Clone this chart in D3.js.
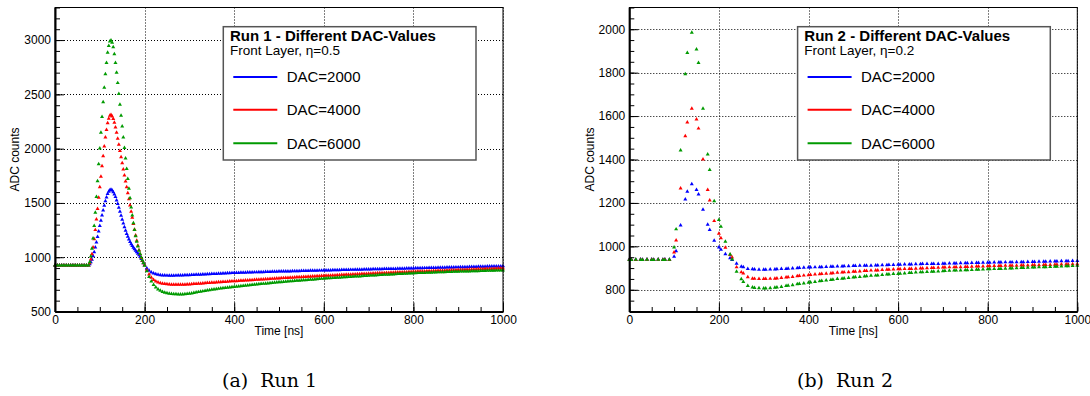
<!DOCTYPE html>
<html>
<head>
<meta charset="utf-8">
<script src="https://cdn.jsdelivr.net/npm/d3@7"></script>
<style>
  body { margin: 0; background: #fff; }
  svg text { font-family: "Liberation Sans", Arial, sans-serif; }
  svg text.caption { font-family: "DejaVu Serif", serif; }
</style>
</head>
<body>
<svg id="chart" width="1090" height="396"></svg>
<script>
// ---- data ----
const dacLabels = ['DAC=2000', 'DAC=4000', 'DAC=6000'];
const timeTicks = [0, 200, 400, 600, 800, 1000];
const run1YTicks = [500, 1000, 1500, 2000, 2500, 3000];
const run2YTicks = [800, 1000, 1200, 1400, 1600, 1800, 2000];

// run 1: dense sampling (ns)
const run1Time = [
  0, 5, 10, 15, 20, 25, 30, 35, 40, 45, 50, 55, 60, 65, 70,
  75, 77.5, 80, 82.5, 85, 87.5, 90, 92.5, 95, 97.5, 100, 102.5, 105, 107.5, 110, 112.5, 115, 117.5, 120, 122.5,
  125, 127.5, 130, 132.5, 135, 137.5, 140, 142.5, 145, 147.5, 150, 152.5, 155, 157.5, 160, 162.5, 165, 167.5, 170, 172.5,
  175, 177.5, 180, 182.5, 185, 187.5, 190, 192.5, 195, 197.5, 200,
  205, 210, 215, 220, 225, 230, 235, 240, 245, 250, 255, 260, 265, 270, 275, 280, 285, 290, 295, 300,
  305, 310, 315, 320, 325, 330, 335, 340, 345, 350, 355, 360, 365, 370, 375, 380, 385, 390, 395, 400,
  405, 410, 415, 420, 425, 430, 435, 440, 445, 450, 455, 460, 465, 470, 475, 480, 485, 490, 495, 500,
  505, 510, 515, 520, 525, 530, 535, 540, 545, 550, 555, 560, 565, 570, 575, 580, 585, 590, 595, 600,
  605, 610, 615, 620, 625, 630, 635, 640, 645, 650, 655, 660, 665, 670, 675, 680, 685, 690, 695, 700,
  705, 710, 715, 720, 725, 730, 735, 740, 745, 750, 755, 760, 765, 770, 775, 780, 785, 790, 795, 800,
  805, 810, 815, 820, 825, 830, 835, 840, 845, 850, 855, 860, 865, 870, 875, 880, 885, 890, 895, 900,
  905, 910, 915, 920, 925, 930, 935, 940, 945, 950, 955, 960, 965, 970, 975, 980, 985, 990, 995, 1000
];
const run1Dac2000 = [
  926, 926, 926, 926, 926, 926, 926, 926, 926, 926, 926, 926, 926, 926, 926,
  926, 936, 954, 978, 1010, 1048, 1090, 1138, 1187, 1239, 1288, 1337, 1385, 1431, 1476, 1518, 1552, 1584, 1605, 1619,
  1622, 1615, 1600, 1580, 1555, 1525, 1492, 1457, 1420, 1383, 1347, 1312, 1278, 1246, 1216, 1189, 1164, 1142, 1122, 1104,
  1088, 1074, 1061, 1048, 1034, 1019, 1003, 985, 966, 947, 928,
  898, 876, 861, 851, 844, 839, 836, 834, 833, 832, 831, 831, 831, 832, 833, 833, 834, 835, 835, 836,
  837, 838, 839, 840, 841, 842, 843, 844, 845, 846, 847, 848, 849, 850, 851, 852, 853, 854, 855, 856,
  857, 857, 858, 859, 859, 860, 861, 861, 862, 862, 863, 864, 864, 865, 866, 866, 867, 868, 868, 869,
  869, 870, 870, 871, 871, 872, 872, 873, 873, 874, 874, 875, 875, 876, 876, 877, 877, 878, 878, 879,
  879, 880, 880, 881, 881, 882, 882, 883, 883, 884, 884, 885, 885, 886, 886, 887, 887, 888, 888, 889,
  889, 890, 890, 891, 891, 891, 892, 892, 893, 893, 894, 894, 895, 895, 896, 896, 897, 897, 898, 898,
  899, 899, 900, 900, 901, 901, 902, 902, 903, 903, 904, 904, 905, 905, 906, 906, 907, 907, 908, 908,
  909, 909, 910, 910, 911, 911, 912, 912, 913, 913, 914, 914, 915, 915, 916, 916, 916, 917, 917, 918
];
const run1Dac4000 = [
  925, 925, 925, 925, 925, 925, 925, 925, 925, 925, 925, 925, 925, 925, 925,
  925, 946, 980, 1029, 1091, 1168, 1251, 1348, 1445, 1549, 1646, 1743, 1840, 1931, 2021, 2104, 2173, 2236, 2277, 2305,
  2312, 2298, 2275, 2240, 2197, 2148, 2093, 2037, 1980, 1923, 1866, 1810, 1755, 1700, 1645, 1590, 1535, 1478, 1421, 1364,
  1308, 1254, 1202, 1153, 1107, 1065, 1028, 995, 968, 946, 928,
  882, 842, 812, 792, 778, 768, 762, 757, 754, 752, 750, 749, 748, 748, 748, 748, 748, 749, 750, 751,
  752, 754, 755, 757, 758, 760, 761, 763, 764, 766, 767, 768, 770, 771, 773, 774, 776, 777, 779, 780,
  781, 783, 784, 785, 787, 788, 789, 790, 792, 793, 794, 796, 797, 798, 799, 801, 802, 803, 805, 806,
  808, 809, 810, 811, 812, 813, 814, 816, 817, 818, 819, 820, 821, 822, 823, 825, 826, 827, 828, 829,
  830, 831, 832, 833, 834, 835, 836, 837, 838, 839, 840, 841, 842, 843, 844, 845, 846, 847, 848, 849,
  850, 851, 852, 853, 853, 854, 855, 856, 857, 858, 859, 860, 861, 862, 862, 863, 864, 865, 866, 867,
  868, 869, 869, 870, 871, 872, 873, 873, 874, 875, 876, 877, 877, 878, 879, 880, 881, 881, 882, 883,
  884, 885, 885, 886, 887, 888, 888, 889, 890, 891, 891, 892, 893, 894, 894, 895, 896, 897, 897, 898
];
const run1Dac6000 = [
  925, 925, 925, 925, 925, 925, 925, 925, 925, 925, 925, 925, 925, 925, 925,
  925, 956, 1008, 1080, 1174, 1288, 1412, 1557, 1702, 1858, 2003, 2148, 2293, 2428, 2563, 2687, 2791, 2884, 2946, 2988,
  2998, 2977, 2935, 2870, 2790, 2700, 2605, 2505, 2405, 2305, 2205, 2105, 2007, 1910, 1815, 1722, 1632, 1545, 1460, 1385,
  1315, 1252, 1195, 1145, 1100, 1062, 1030, 1000, 972, 948, 924,
  872, 820, 778, 746, 722, 705, 692, 682, 675, 670, 666, 663, 661, 660, 659, 659, 659, 660, 662, 665,
  668, 672, 676, 680, 684, 687, 691, 694, 698, 701, 704, 707, 710, 713, 716, 719, 721, 723, 725, 727,
  729, 732, 734, 736, 738, 741, 743, 745, 747, 750, 752, 754, 756, 758, 760, 762, 764, 766, 768, 770,
  772, 774, 775, 777, 779, 780, 782, 784, 785, 787, 789, 790, 792, 794, 795, 797, 799, 800, 802, 804,
  805, 807, 808, 809, 811, 812, 813, 815, 816, 817, 819, 820, 821, 823, 824, 825, 827, 828, 829, 831,
  832, 833, 834, 835, 837, 838, 839, 840, 841, 842, 843, 844, 846, 847, 848, 849, 850, 851, 852, 853,
  854, 855, 855, 856, 857, 858, 859, 859, 860, 861, 862, 862, 863, 864, 865, 865, 866, 867, 867, 868,
  869, 869, 870, 870, 871, 872, 872, 873, 873, 874, 874, 875, 876, 876, 877, 877, 878, 878, 879, 879
];

// run 2: sparse sampling, three phases per 25 ns clock
const run2Time = [
  0, 4.5, 14.5, 25, 29.5, 39.5, 50, 54.5, 64.5, 75, 79.5, 89.5,
  100, 104.5, 114.5, 125, 129.5, 139.5, 150, 154.5, 164.5, 175, 179.5, 189.5,
  200, 204.5, 214.5, 225, 229.5, 239.5, 250, 254.5, 264.5, 275, 279.5, 289.5,
  300, 304.5, 314.5, 325, 329.5, 339.5, 350, 354.5, 364.5, 375, 379.5, 389.5,
  400, 404.5, 414.5, 425, 429.5, 439.5, 450, 454.5, 464.5, 475, 479.5, 489.5,
  500, 504.5, 514.5, 525, 529.5, 539.5, 550, 554.5, 564.5, 575, 579.5, 589.5,
  600, 604.5, 614.5, 625, 629.5, 639.5, 650, 654.5, 664.5, 675, 679.5, 689.5,
  700, 704.5, 714.5, 725, 729.5, 739.5, 750, 754.5, 764.5, 775, 779.5, 789.5,
  800, 804.5, 814.5, 825, 829.5, 839.5, 850, 854.5, 864.5, 875, 879.5, 889.5,
  900, 904.5, 914.5, 925, 929.5, 939.5, 950, 954.5, 964.5, 975, 979.5, 989.5,
  1000
];
const run2Dac2000 = [
  940, 940, 939, 940, 939, 940, 940, 939, 940, 939, 940, 939,
  953, 978, 1097, 1217, 1252, 1287, 1260, 1240, 1169, 1100, 1076, 1027,
  996, 985, 964, 946, 938, 921, 907, 905, 897, 895, 894, 893,
  893, 893, 894, 894, 895, 896, 897, 898, 899, 900, 901, 902,
  903, 903, 904, 905, 905, 906, 907, 907, 908, 908, 909, 909,
  910, 910, 911, 911, 912, 912, 913, 913, 914, 914, 915, 915,
  916, 916, 917, 917, 917, 918, 918, 919, 919, 920, 920, 920,
  921, 921, 922, 922, 922, 923, 923, 923, 924, 924, 924, 925,
  925, 925, 926, 926, 926, 927, 927, 927, 928, 928, 928, 929,
  929, 929, 930, 930, 930, 931, 931, 931, 932, 932, 932, 933,
  933
];
const run2Dac4000 = [
  939, 939, 938, 939, 938, 939, 939, 938, 939, 938, 939, 938,
  973, 1028, 1267, 1508, 1571, 1635, 1585, 1543, 1401, 1260, 1212, 1117,
  1059, 1038, 994, 961, 950, 904, 881, 876, 858, 852, 851, 850,
  850, 850, 851, 852, 853, 855, 857, 858, 860, 863, 864, 866,
  868, 869, 871, 872, 873, 875, 876, 877, 879, 880, 881, 882,
  884, 884, 885, 887, 887, 889, 890, 890, 892, 893, 893, 894,
  895, 895, 896, 897, 897, 898, 899, 899, 900, 901, 901, 902,
  903, 903, 904, 904, 905, 905, 906, 906, 907, 908, 908, 908,
  909, 909, 910, 910, 910, 911, 911, 912, 912, 913, 913, 913,
  914, 914, 914, 915, 915, 915, 916, 916, 917, 917, 917, 918,
  918
];
const run2Dac6000 = [
  938, 938, 939, 938, 938, 939, 938, 938, 939, 938, 938, 939,
  996, 1079, 1442, 1793, 1891, 1985, 1907, 1845, 1634, 1424, 1352, 1209,
  1122, 1091, 1022, 963, 940, 884, 849, 837, 818, 811, 809, 808,
  807, 807, 808, 810, 811, 814, 818, 819, 822, 826, 827, 830,
  833, 834, 837, 840, 841, 844, 846, 847, 850, 852, 853, 855,
  857, 858, 860, 862, 863, 865, 866, 867, 869, 871, 871, 873,
  874, 875, 876, 878, 878, 880, 881, 881, 883, 884, 884, 885,
  886, 887, 888, 889, 889, 890, 891, 891, 892, 893, 893, 894,
  895, 895, 896, 897, 897, 898, 899, 899, 900, 901, 901, 902,
  903, 903, 904, 905, 905, 906, 907, 907, 908, 909, 909, 910,
  911
];

// ---- layout ----
const SERIES_COLORS = ['#0000ff', '#ff0000', '#009a00'];
const PLOT_TOP = 7.5;
const PLOT_BOTTOM = 311.5;
const MARKER_SIZE = 7;

const svg = d3.select('#chart');
svg.append('rect').attr('width', 1090).attr('height', 396).attr('fill', '#fff');

function drawPanel(opts) {
  const { left, right, yDomain, yTicks, yMinorStep, time, series, title, subtitle, caption } = opts;
  const g = svg.append('g');

  const x = d3.scaleLinear().domain([0, 1000]).range([left, right]);
  const y = d3.scaleLinear().domain(yDomain).range([PLOT_BOTTOM, PLOT_TOP]);

  // dotted grid at the labelled ticks
  g.append('g').selectAll('line')
    .data(timeTicks.filter(t => t > 0))
    .join('line')
      .attr('x1', d => Math.round(x(d)) + 0.5).attr('x2', d => Math.round(x(d)) + 0.5)
      .attr('y1', PLOT_TOP).attr('y2', PLOT_BOTTOM)
      .attr('stroke', '#000').attr('stroke-width', 1).attr('stroke-dasharray', '1,2');
  g.append('g').selectAll('line')
    .data(yTicks.filter(v => v > yDomain[0]))
    .join('line')
      .attr('x1', left).attr('x2', right)
      .attr('y1', d => Math.round(y(d)) + 0.5).attr('y2', d => Math.round(y(d)) + 0.5)
      .attr('stroke', '#000').attr('stroke-width', 1).attr('stroke-dasharray', '1,2');

  // triangle markers, one layer per DAC setting
  const tri = d3.symbol(d3.symbolTriangle, MARKER_SIZE);
  series.forEach((vals, si) => {
    g.append('g').selectAll('path')
      .data(vals.map((v, i) => ({ t: time[i], v })))
      .join('path')
        .attr('d', tri)
        .attr('transform', d => `translate(${x(d.t)},${y(d.v)})`)
        .attr('fill', SERIES_COLORS[si]);
  });

  // frame
  g.append('rect')
    .attr('x', left).attr('y', PLOT_TOP)
    .attr('width', right - left).attr('height', PLOT_BOTTOM - PLOT_TOP)
    .attr('fill', 'none').attr('stroke', '#000').attr('stroke-width', 1);

  // axes (ticks point into the frame)
  const yMinor = d3.range(yDomain[0], yDomain[1] + 1, yMinorStep);
  const xMinor = d3.range(0, 1001, 50);

  g.append('g').attr('transform', `translate(${left},0)`)
    .call(d3.axisLeft(y).tickValues(yMinor).tickSize(-5).tickSizeOuter(0).tickFormat(''))
    .call(a => a.select('.domain').remove());
  const yAxis = g.append('g').attr('transform', `translate(${left},0)`)
    .call(d3.axisLeft(y).tickValues(yTicks).tickSize(-9).tickSizeOuter(0).tickPadding(4).tickFormat(d3.format('d')));
  yAxis.select('.domain').attr('stroke-width', 2);

  g.append('g').attr('transform', `translate(0,${PLOT_BOTTOM})`)
    .call(d3.axisBottom(x).tickValues(xMinor).tickSize(-4.5).tickSizeOuter(0).tickFormat(''))
    .call(a => a.select('.domain').remove());
  const xAxis = g.append('g').attr('transform', `translate(0,${PLOT_BOTTOM})`)
    .call(d3.axisBottom(x).tickValues(timeTicks).tickSize(-9).tickSizeOuter(0).tickPadding(3.5).tickFormat(d3.format('d')));
  xAxis.select('.domain').attr('stroke-width', 2);

  g.selectAll('.tick text')
    .attr('font-size', 12).attr('fill', '#000');
  g.selectAll('.tick line').attr('stroke', '#000');

  g.append('text')
    .attr('transform', `translate(${left - 40},${(PLOT_TOP + PLOT_BOTTOM) / 2}) rotate(-90)`)
    .attr('text-anchor', 'middle').attr('dy', '0.35em')
    .attr('font-size', 12)
    .text('ADC counts');
  g.append('text')
    .attr('x', (left + right) / 2).attr('y', 335)
    .attr('text-anchor', 'middle')
    .attr('font-size', 12)
    .text('Time [ns]');

  // legend box
  const lx = left + 168.3;
  const ly = 26.7;
  const legend = g.append('g');
  legend.append('rect')
    .attr('x', lx).attr('y', ly).attr('width', 252.7).attr('height', 133.3)
    .attr('fill', '#fff').attr('stroke', '#555').attr('stroke-width', 1.5);
  legend.append('text')
    .attr('x', lx + 6.7).attr('y', ly + 14)
    .attr('font-size', 15).attr('font-weight', 'bold')
    .text(title);
  legend.append('text')
    .attr('x', lx + 6.7).attr('y', ly + 28.5)
    .attr('font-size', 13.5)
    .text(subtitle);
  const rowY = [ly + 50.3, ly + 83, ly + 116.6];
  dacLabels.forEach((label, i) => {
    legend.append('line')
      .attr('x1', lx + 10).attr('x2', lx + 54)
      .attr('y1', rowY[i]).attr('y2', rowY[i])
      .attr('stroke', SERIES_COLORS[i]).attr('stroke-width', 2);
    legend.append('text')
      .attr('x', lx + 63.4).attr('y', rowY[i]).attr('dy', '0.36em')
      .attr('font-size', 15)
      .text(label);
  });

  // sub-figure caption
  svg.append('text')
    .attr('class', 'caption')
    .attr('x', caption.x).attr('y', 387)
    .attr('font-size', 19)
    .attr('xml:space', 'preserve')
    .text(caption.text);
}

drawPanel({
  left: 55, right: 503,
  yDomain: [500, 3300], yTicks: run1YTicks, yMinorStep: 100,
  time: run1Time,
  series: [run1Dac2000, run1Dac4000, run1Dac6000],
  title: 'Run 1 - Different DAC-Values',
  subtitle: 'Front Layer, \u03b7=0.5',
  caption: { x: 222, text: '(a)  Run 1' }
});

drawPanel({
  left: 629.3, right: 1077.3,
  yDomain: [700, 2100], yTicks: run2YTicks, yMinorStep: 50,
  time: run2Time,
  series: [run2Dac2000, run2Dac4000, run2Dac6000],
  title: 'Run 2 - Different DAC-Values',
  subtitle: 'Front Layer, \u03b7=0.2',
  caption: { x: 797, text: '(b)  Run 2' }
});
</script>
</body>
</html>
